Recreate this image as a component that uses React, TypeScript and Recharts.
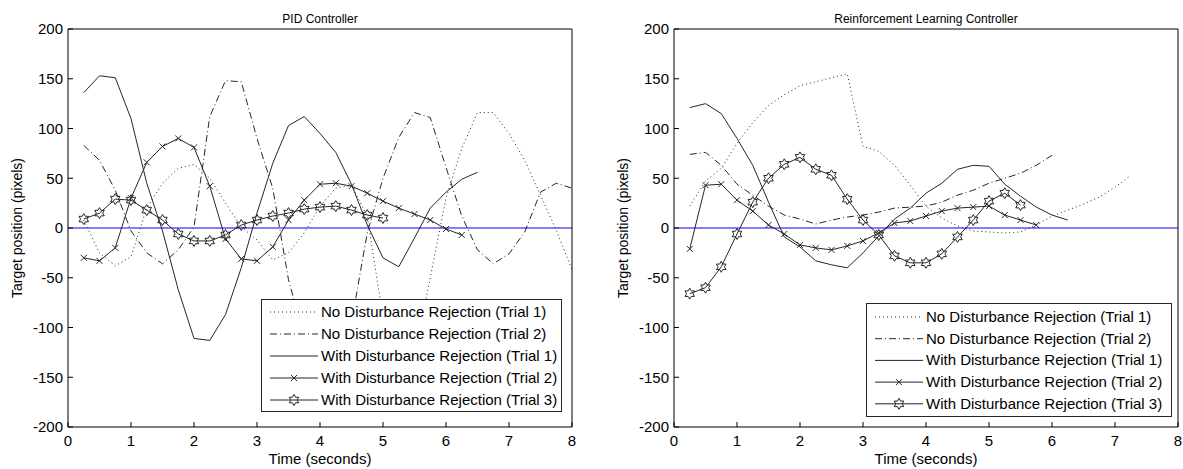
import React from 'react';
import { LineChart, Line, XAxis, YAxis, ReferenceLine, Legend } from 'recharts';

// sample times (s)
const T = [0.25, 0.5, 0.75, 1, 1.25, 1.5, 1.75, 2, 2.25, 2.5, 2.75, 3, 3.25, 3.5, 3.75, 4,
  4.25, 4.5, 4.75, 5, 5.25, 5.5, 5.75, 6, 6.25, 6.5, 6.75, 7, 7.25, 7.5, 7.75, 8];
const X_TICKS = [0, 1, 2, 3, 4, 5, 6, 7, 8];
const Y_TICKS = [-200, -150, -100, -50, 0, 50, 100, 150, 200];

const LEGEND_NAMES = [
  'No Disturbance Rejection (Trial 1)',
  'No Disturbance Rejection (Trial 2)',
  'With Disturbance Rejection (Trial 1)',
  'With Disturbance Rejection (Trial 2)',
  'With Disturbance Rejection (Trial 3)',
];

// PID controller
const pidNoDR1 = [8, -25, -38, -29, 20, 45, 60, 64, 50, 25, 1, -12, -32, -25, -5, 22,
  40, 43, 12, -90, -140, -130, -50, 30, 80, 116, 116, 95, 68, 33, -2, -42];
const pidNoDR2 = [83, 68, 38, -3, -25, -36, -22, 1, 112, 148, 147, 90, 40, -52, -110, -140,
  -135, -95, -5, 50, 91, 116, 111, 61, 12, -22, -36, -26, -4, 36, 45, 40];
const pidDR1 = [136, 153, 151, 110, 45, -3, -62, -111, -113, -87, -40, 15, 65, 103, 112, 95,
  76, 44, 3, -30, -39, -10, 20, 36, 49, 56];
const pidDR2 = [-30, -33, -20, 30, 66, 82, 90, 81, 42, -11, -31, -33, -19, 8, 28, 44,
  45, 42, 35, 27, 20, 14, 8, -1, -7];
const pidDR3 = [9, 15, 29, 28, 18, 8, -6, -13, -13, -7, 3, 8, 12, 15, 19, 21, 22, 18, 13, 10];

// Reinforcement learning controller
const rlNoDR1 = [22, 47, 60, 85, 106, 123, 134, 143, 147, 151, 155, 82, 77, 63, 43, 22,
  10, 2, -3, -4, -5, -4, 3, 12, 18, 24, 31, 41, 53];
const rlNoDR2 = [74, 76, 63, 44, 33, 22, 13, 9, 4, 8, 11, 13, 16, 20, 21, 22,
  26, 33, 38, 45, 50, 55, 63, 73];
const rlDR1 = [121, 125, 115, 90, 63, 26, -9, -19, -33, -37, -40, -25, -8, 9, 20, 35,
  45, 59, 63, 62, 44, 32, 21, 13, 8];
const rlDR2 = [-21, 43, 44, 28, 17, 3, -6, -17, -20, -22, -18, -13, -5, 5, 7, 12,
  17, 20, 21, 22, 13, 8, 3];
const rlDR3 = [-66, -60, -39, -6, 26, 50, 64, 71, 59, 53, 29, 8, -7, -28, -35, -35,
  -26, -9, 8, 27, 35, 23];

const FONT = '"Liberation Sans", Arial, Helvetica, sans-serif';
const INK = '#262626';

type Kind = 'x' | 'hex';
interface LineStyle { dash?: string; marker?: Kind }
const STYLES: LineStyle[] = [{ dash: '1 3' }, { dash: '7 3 1 3' }, {}, { marker: 'x' }, { marker: 'hex' }];

const toPoints = (vals: number[]) => vals.map((v, i) => ({ t: T[i], v }));

const hexagram = (cx: number, cy: number, r: number) => {
  const pts: string[] = [];
  for (let i = 0; i < 12; i++) {
    const a = (Math.PI / 6) * i - Math.PI / 2;
    const rr = i % 2 === 0 ? r : r / Math.sqrt(3);
    pts.push(`${(cx + rr * Math.cos(a)).toFixed(2)},${(cy + rr * Math.sin(a)).toFixed(2)}`);
  }
  return pts.join(' ');
};

const Marker = ({ kind, cx, cy }: { kind: Kind; cx: number; cy: number }) => {
  if (kind === 'x') {
    return (
      <path d={`M${cx - 3},${cy - 3}L${cx + 3},${cy + 3}M${cx - 3},${cy + 3}L${cx + 3},${cy - 3}`}
        stroke={INK} strokeWidth={1} fill="none" />
    );
  }
  return <polygon points={hexagram(cx, cy, 5.5)} stroke={INK} strokeWidth={1} fill="none" />;
};

const YLabel = (props: any) => {
  const vb = props.viewBox || { x: 0, y: 0, height: 0 };
  const x = vb.x + 17;
  const y = vb.y + vb.height / 2;
  return (
    <text x={x} y={y} transform={`rotate(-90 ${x} ${y})`} textAnchor="middle" dominantBaseline="central"
      fontSize={14} fontFamily={FONT} fill="#000">Target position (pixels)</text>
  );
};

const XLabel = (props: any) => {
  const vb = props.viewBox || { x: 0, y: 0, width: 0 };
  return (
    <text x={vb.x + vb.width / 2} y={vb.y + 37} textAnchor="middle" fontSize={15} fontFamily={FONT} fill="#000">
      Time (seconds)
    </text>
  );
};

const Title = (props: any) => {
  const vb = props.viewBox || { x: 0, y: 0, width: 0 };
  return (
    <text x={vb.x + vb.width / 2} y={vb.y - 5} textAnchor="middle" fontSize={12} fontFamily={FONT} fill="#000">
      {props.text}
    </text>
  );
};

const LegendBox = ({ w, h, rowTop, rowGap }: { w: number; h: number; rowTop: number; rowGap: number }) => (
  <svg width={w} height={h} style={{ display: 'block' }}>
    <rect x={0.5} y={0.5} width={w - 1} height={h - 1} fill="#fff" stroke={INK} />
    {LEGEND_NAMES.map((name, i) => {
      const y = rowTop + i * rowGap;
      const s = STYLES[i];
      return (
        <g key={name}>
          <line x1={9} x2={57} y1={y} y2={y} stroke={INK} strokeDasharray={s.dash} />
          {s.marker && <Marker kind={s.marker} cx={33} cy={y} />}
          <text x={60} y={y + 5} fontSize={15} fontFamily={FONT} fill="#000">{name}</text>
        </g>
      );
    })}
  </svg>
);

interface PanelProps {
  title: string;
  left: number;
  width: number;
  rightMargin: number;
  series: number[][];
  legend: { left: number; top: number; w: number; h: number; rowTop: number; rowGap: number };
}

const Panel = ({ title, left, width, rightMargin, series, legend }: PanelProps) => (
  <div style={{ position: 'absolute', left, top: 0 }}>
    <LineChart width={width} height={469} margin={{ top: 28, right: rightMargin, bottom: 0, left: 0 }}>
      <XAxis xAxisId="b" type="number" dataKey="t" domain={[0, 8]} ticks={X_TICKS} height={42}
        allowDataOverflow stroke="#000" tickSize={-5} tickMargin={13}
        tick={{ fontSize: 15, fill: '#000', fontFamily: FONT }} label={<XLabel />} />
      <XAxis xAxisId="top" orientation="top" type="number" domain={[0, 8]} ticks={X_TICKS} height={1}
        allowDataOverflow stroke="#000" tickSize={-5} tick={false} label={<Title text={title} />} />
      <YAxis yAxisId="l" type="number" domain={[-200, 200]} ticks={Y_TICKS} width={68}
        allowDataOverflow stroke="#000" tickSize={-5} tickMargin={10}
        tick={{ fontSize: 15, fill: '#000', fontFamily: FONT }} label={<YLabel />} />
      <YAxis yAxisId="r" orientation="right" type="number" domain={[-200, 200]} ticks={Y_TICKS} width={1}
        allowDataOverflow stroke="#000" tickSize={-5} tick={false} />
      <ReferenceLine xAxisId="b" yAxisId="l" y={0} stroke="#0000ff" strokeWidth={1} />
      {series.map((vals, i) => {
        const s = STYLES[i];
        return (
          <Line key={LEGEND_NAMES[i]} name={LEGEND_NAMES[i]} xAxisId="b" yAxisId="l" data={toPoints(vals)}
            dataKey="v" type="linear" stroke={INK} strokeWidth={1} strokeDasharray={s.dash}
            dot={s.marker ? (p: any) => <Marker key={`m-${i}-${p.index}`} kind={s.marker as Kind} cx={p.cx} cy={p.cy} /> : false}
            activeDot={false} isAnimationActive={false} />
        );
      })}
      <Legend layout="horizontal" verticalAlign="middle" align="center"
        wrapperStyle={{ left: legend.left, top: legend.top, width: legend.w, height: legend.h }}
        content={() => <LegendBox w={legend.w} h={legend.h} rowTop={legend.rowTop} rowGap={legend.rowGap} />} />
    </LineChart>
  </div>
);

export default function App() {
  return (
    <div style={{ position: 'absolute', left: 0, top: 0, width: 1183, height: 469, background: '#fff', fontFamily: FONT }}>
      <Panel title="PID Controller" left={0} width={600} rightMargin={27}
        series={[pidNoDR1, pidNoDR2, pidDR1, pidDR2, pidDR3]}
        legend={{ left: 261, top: 299, w: 301, h: 113, rowTop: 13, rowGap: 22 }} />
      <Panel title="Reinforcement Learning Controller" left={606} width={577} rightMargin={4}
        series={[rlNoDR1, rlNoDR2, rlDR1, rlDR2, rlDR3]}
        legend={{ left: 260, top: 303, w: 306, h: 114, rowTop: 14, rowGap: 21.7 }} />
    </div>
  );
}
